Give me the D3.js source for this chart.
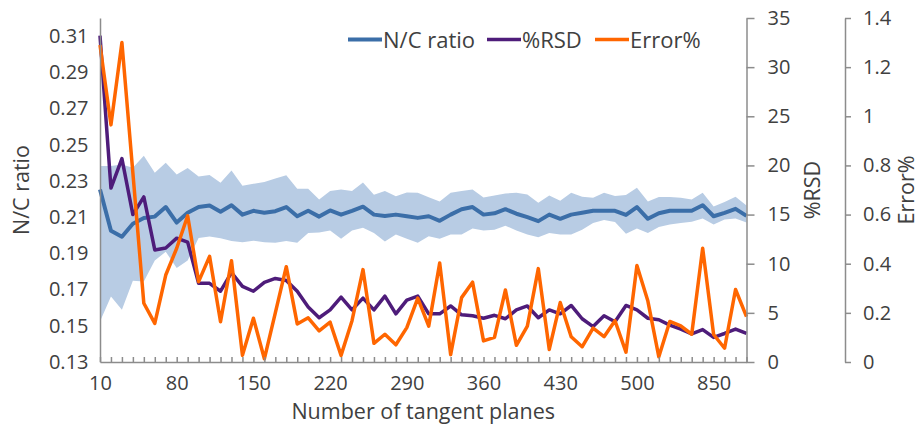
<!DOCTYPE html>
<html>
<head>
<meta charset="utf-8">
<script src="https://cdn.jsdelivr.net/npm/d3@7"></script>
<style>
  body { margin: 0; background: #fff; }
  text { font-family: "Open Sans", sans-serif; fill: #404040; }
</style>
</head>
<body>
<svg id="chart" width="919" height="431"></svg>
<script>
// ─── Data ───────────────────────────────────────────────────────────────────
const planes = [10, 20, 30, 40, 50, 60, 70, 80, 90, 100,
  110, 120, 130, 140, 150, 160, 170, 180, 190, 200,
  210, 220, 230, 240, 250, 260, 270, 280, 290, 300,
  310, 320, 330, 340, 350, 360, 370, 380, 390, 400,
  410, 420, 430, 440, 450, 460, 470, 480, 490, 500,
  550, 600, 650, 700, 750, 800, 850, 900, 950, 1000];

const ncRatio = [0.2253, 0.2025, 0.1992, 0.2064, 0.2095, 0.2103, 0.2156, 0.2070, 0.2124, 0.2156,
  0.2164, 0.2130, 0.2166, 0.2114, 0.2135, 0.2124, 0.2133, 0.2156, 0.2105, 0.2135,
  0.2103, 0.2137, 0.2114, 0.2135, 0.2158, 0.2114, 0.2107, 0.2114, 0.2105, 0.2096,
  0.2105, 0.2080, 0.2114, 0.2144, 0.2156, 0.2114, 0.2121, 0.2144, 0.2119, 0.2100,
  0.2078, 0.2114, 0.2091, 0.2114, 0.2124, 0.2135, 0.2135, 0.2135, 0.2112, 0.2156,
  0.2091, 0.2122, 0.2135, 0.2135, 0.2135, 0.2166, 0.2105, 0.2124, 0.2146, 0.2107];

// shaded spread around the N/C ratio
const ncHigh = [0.2382, 0.2382, 0.2391, 0.2373, 0.2439, 0.2345, 0.2401, 0.2336, 0.2372, 0.2325,
  0.2333, 0.2290, 0.2358, 0.2273, 0.2284, 0.2294, 0.2313, 0.2332, 0.2257, 0.2257,
  0.2198, 0.2244, 0.2253, 0.2244, 0.2292, 0.2224, 0.2244, 0.2216, 0.2236, 0.2235,
  0.2210, 0.2186, 0.2235, 0.2244, 0.2253, 0.2209, 0.2220, 0.2231, 0.2235, 0.2225,
  0.2179, 0.2220, 0.2190, 0.2235, 0.2213, 0.2207, 0.2235, 0.2217, 0.2222, 0.2262,
  0.2186, 0.2211, 0.2211, 0.2207, 0.2198, 0.2235, 0.2159, 0.2184, 0.2213, 0.2164];

const ncLow = [0.1524, 0.1662, 0.1588, 0.1749, 0.1745, 0.1860, 0.1909, 0.1819, 0.1860, 0.1985,
  0.1993, 0.1983, 0.1969, 0.1962, 0.1970, 0.1962, 0.1958, 0.1969, 0.1958, 0.2013,
  0.2015, 0.2026, 0.1981, 0.2026, 0.2042, 0.2013, 0.1966, 0.2004, 0.1981, 0.1958,
  0.1994, 0.1981, 0.2004, 0.2004, 0.2037, 0.2026, 0.2031, 0.2053, 0.2026, 0.2004,
  0.1989, 0.2013, 0.2004, 0.2004, 0.2031, 0.2068, 0.2084, 0.2073, 0.2009, 0.2037,
  0.2013, 0.2045, 0.2059, 0.2068, 0.2074, 0.2092, 0.2059, 0.2087, 0.2092, 0.2070];

const rsd = [33.2, 17.7, 20.7, 15.0, 16.8, 11.4, 11.6, 12.6, 12.2, 8.0,
  8.0, 7.2, 9.1, 7.7, 7.2, 8.1, 8.5, 8.3, 7.2, 5.6,
  4.5, 5.3, 6.6, 5.3, 6.5, 5.3, 6.7, 4.9, 6.3, 6.7,
  4.9, 4.9, 5.7, 4.8, 4.7, 4.45, 4.75, 4.4, 5.3, 5.7,
  4.5, 5.3, 4.9, 5.75, 4.4, 3.6, 4.7, 4.1, 5.75, 5.3,
  4.45, 4.3, 3.75, 3.35, 2.85, 3.3, 2.5, 2.9, 3.35, 2.9];

const errorPct = [1.29, 0.965, 1.30, 0.77, 0.239, 0.157, 0.354, 0.463, 0.595, 0.327,
  0.43, 0.164, 0.412, 0.027, 0.178, 0.013, 0.2, 0.388, 0.155, 0.18,
  0.127, 0.162, 0.027, 0.168, 0.376, 0.076, 0.113, 0.07, 0.14, 0.26,
  0.146, 0.403, 0.03, 0.262, 0.325, 0.086, 0.1, 0.293, 0.068, 0.146,
  0.38, 0.051, 0.242, 0.103, 0.062, 0.138, 0.103, 0.168, 0.04, 0.393,
  0.248, 0.021, 0.165, 0.147, 0.113, 0.463, 0.112, 0.056, 0.295, 0.185];

const ncTicks = [0.13, 0.15, 0.17, 0.19, 0.21, 0.23, 0.25, 0.27, 0.29, 0.31];
const rsdTicks = [0, 5, 10, 15, 20, 25, 30, 35];
const errTicks = [0, 0.2, 0.4, 0.6, 0.8, 1, 1.2, 1.4];
const xLabelEvery = 7;

const series = [
  { name: 'N/C ratio', values: ncRatio, axis: 'nc',  color: '#3b6ea8', width: 4 },
  { name: '%RSD',      values: rsd,     axis: 'rsd', color: '#4e1c7a', width: 3.5 },
  { name: 'Error%',    values: errorPct, axis: 'err', color: '#ff6600', width: 3.5 }
];

// ─── Layout ─────────────────────────────────────────────────────────────────
const PLOT = { left: 100, right: 746.5, top: 18, bottom: 362 };
const ERR_AXIS_X = 845;
const AXIS_COLOR = '#8c8c8c';
const TICK_FONT = 20;
const TITLE_FONT = 21.5;

const svg = d3.select('#chart');

const x = d3.scalePoint().domain(planes).range([PLOT.left, PLOT.right]);
const y = {
  nc:  d3.scaleLinear().domain([0.13, 0.32]).range([PLOT.bottom, PLOT.top]),
  rsd: d3.scaleLinear().domain([0, 35]).range([PLOT.bottom, PLOT.top]),
  err: d3.scaleLinear().domain([0, 1.4]).range([PLOT.bottom, PLOT.top])
};

// ─── Band + lines ───────────────────────────────────────────────────────────
const band = d3.area()
  .x((d, i) => x(planes[i]))
  .y0((d, i) => y.nc(ncLow[i]))
  .y1((d, i) => y.nc(ncHigh[i]));

svg.append('path')
  .datum(planes)
  .attr('d', band)
  .attr('fill', '#b8cce4');

series.forEach(s => {
  const line = d3.line()
    .x((d, i) => x(planes[i]))
    .y(d => y[s.axis](d));
  svg.append('path')
    .datum(s.values)
    .attr('d', line)
    .attr('fill', 'none')
    .attr('stroke', s.color)
    .attr('stroke-width', s.width)
    .attr('stroke-linejoin', 'round');
});

// ─── Axes ───────────────────────────────────────────────────────────────────
function styleAxis(g) {
  g.selectAll('path.domain, line').attr('stroke', AXIS_COLOR).attr('stroke-width', 1.5);
  g.selectAll('text')
    .attr('fill', '#404040')
    .style('font-family', '"Open Sans", sans-serif')
    .style('font-size', TICK_FONT + 'px');
  // drop the blank labels of unlabeled category ticks
  g.selectAll('text').filter(function () { return this.textContent === ''; }).remove();
}

svg.append('g')
  .attr('transform', `translate(${PLOT.left},0)`)
  .call(d3.axisLeft(y.nc).tickValues(ncTicks).tickSize(0).tickPadding(11.5)
    .tickFormat(d3.format('.2f')))
  .call(styleAxis);

svg.append('g')
  .attr('transform', `translate(0,${PLOT.bottom})`)
  .call(d3.axisBottom(x).tickSizeInner(-5).tickSizeOuter(0).tickPadding(14)
    .tickFormat((d, i) => i % xLabelEvery === 0 ? d : ''))
  .call(styleAxis);

svg.append('g')
  .attr('transform', `translate(${PLOT.right},0)`)
  .call(d3.axisRight(y.rsd).tickValues(rsdTicks).tickSizeInner(8).tickSizeOuter(0).tickPadding(13))
  .call(styleAxis);

svg.append('g')
  .attr('transform', `translate(${ERR_AXIS_X},0)`)
  .call(d3.axisRight(y.err).tickValues(errTicks).tickSizeInner(6).tickSizeOuter(0).tickPadding(12)
    .tickFormat(d => String(d)))
  .call(styleAxis);

// ─── Titles ─────────────────────────────────────────────────────────────────
const midY = (PLOT.top + PLOT.bottom) / 2;
function vTitle(txt, bx) {
  svg.append('text')
    .attr('transform', `translate(${bx},${midY}) rotate(-90)`)
    .attr('text-anchor', 'middle')
    .style('font-size', TITLE_FONT + 'px')
    .text(txt);
}
vTitle('N/C ratio', 29);
vTitle('%RSD', 820);
vTitle('Error%', 914);

svg.append('text')
  .attr('x', (PLOT.left + PLOT.right) / 2)
  .attr('y', 419)
  .attr('text-anchor', 'middle')
  .style('font-size', TITLE_FONT + 'px')
  .text('Number of tangent planes');

// ─── Legend ─────────────────────────────────────────────────────────────────
const legendX = [348, 487, 595];
const legendY = 39.5;
series.forEach((s, i) => {
  const lx = legendX[i];
  svg.append('line')
    .attr('x1', lx).attr('x2', lx + 34)
    .attr('y1', legendY).attr('y2', legendY)
    .attr('stroke', s.color).attr('stroke-width', s.width);
  svg.append('text')
    .attr('x', lx + 35)
    .attr('y', legendY + 8)
    .style('font-size', '22px')
    .text(s.name);
});
</script>
</body>
</html>
